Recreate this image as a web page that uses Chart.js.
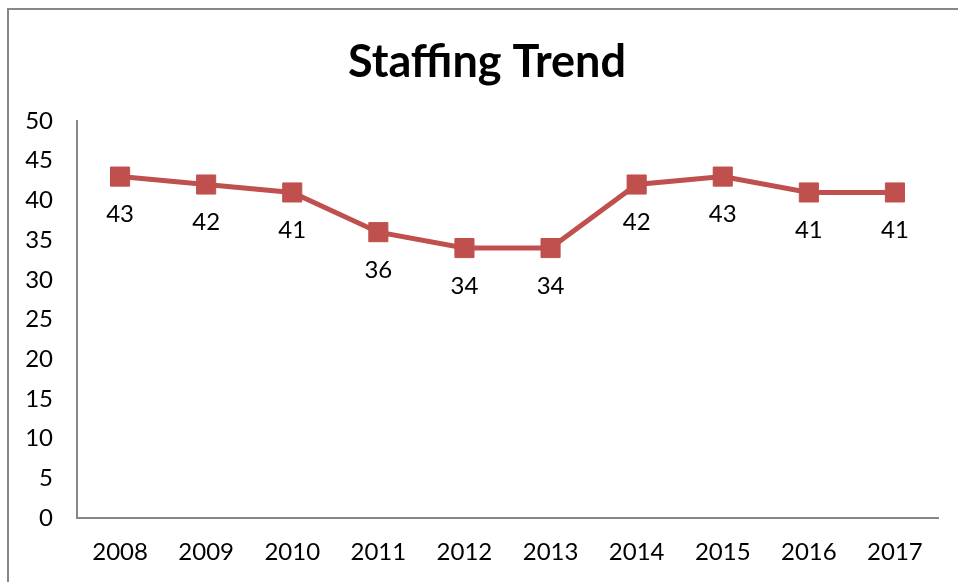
<!DOCTYPE html>
<html>
<head>
<meta charset="utf-8">
<script src="https://cdn.jsdelivr.net/npm/chart.js@4/dist/chart.umd.min.js"></script>
<style>
  html, body { margin: 0; padding: 0; background: #fff; }
  #wrap { position: relative; width: 958px; height: 582px; overflow: hidden; }
  #frame { position: absolute; left: 7px; top: 8px; width: 1000px; height: 1000px; border: 2px solid #878787; box-sizing: border-box; }
  canvas { position: absolute; left: 0; top: 0; }
</style>
</head>
<body>
<div id="wrap">
  <div id="frame"></div>
  <canvas id="c" width="958" height="582"></canvas>
</div>
<script>
const titleText = "Staffing Trend";
const years = ["2008","2009","2010","2011","2012","2013","2014","2015","2016","2017"];
const staff = [43, 42, 41, 36, 34, 34, 42, 43, 41, 41];
const yTicks = [0, 5, 10, 15, 20, 25, 30, 35, 40, 45, 50];

const FONT = "Lato, 'Open Sans', sans-serif";

const titlePlugin = {
  id: 'titleDraw',
  afterDraw(chart) {
    const ctx = chart.ctx;
    ctx.save();
    ctx.font = "bold 45px " + FONT;
    ctx.fillStyle = "#000";
    ctx.textAlign = "center";
    ctx.textBaseline = "middle";
    ctx.fillText(titleText, 487, 62);
    ctx.restore();
  }
};

const labelPlugin = {
  id: 'pointLabels',
  afterDatasetsDraw(chart) {
    const ctx = chart.ctx;
    const meta = chart.getDatasetMeta(0);
    ctx.save();
    ctx.font = "24px " + FONT;
    ctx.fillStyle = "#000";
    ctx.textAlign = "center";
    ctx.textBaseline = "middle";
    meta.data.forEach((pt, i) => {
      ctx.fillText(String(staff[i]), pt.x, pt.y + 38);
    });
    ctx.restore();
  }
};

new Chart(document.getElementById('c'), {
  type: 'line',
  data: {
    labels: years,
    datasets: [{
      data: staff,
      borderColor: '#C0504D',
      backgroundColor: '#C0504D',
      borderWidth: 5,
      pointStyle: 'rect',
      pointRadius: 13.5,
      pointBorderWidth: 1,
      pointBorderColor: '#C0504D',
      pointBackgroundColor: '#C0504D',
      tension: 0,
      fill: false
    }]
  },
  options: {
    responsive: false,
    animation: false,
    devicePixelRatio: 1,
    layout: { padding: { left: 0, right: 20, top: 121, bottom: 0 } },
    plugins: { legend: { display: false }, title: { display: false }, tooltip: { enabled: false } },
    scales: {
      x: {
        offset: true,
        grid: { display: false, drawTicks: false },
        border: { display: true, color: '#878787', width: 2 },
        ticks: { color: '#000', font: { family: FONT, size: 24 }, padding: 20, maxRotation: 0, autoSkip: false },
        afterFit(s) { s.height = 64; }
      },
      y: {
        min: 0, max: 50,
        afterBuildTicks(s) { s.ticks = yTicks.map(v => ({ value: v })); },
        grid: { display: false, drawTicks: false },
        border: { display: true, color: '#878787', width: 2 },
        ticks: { color: '#000', font: { family: FONT, size: 24 }, padding: 24 },
        afterFit(s) { s.width = 77; }
      }
    }
  },
  plugins: [titlePlugin, labelPlugin]
});
</script>
</body>
</html>
